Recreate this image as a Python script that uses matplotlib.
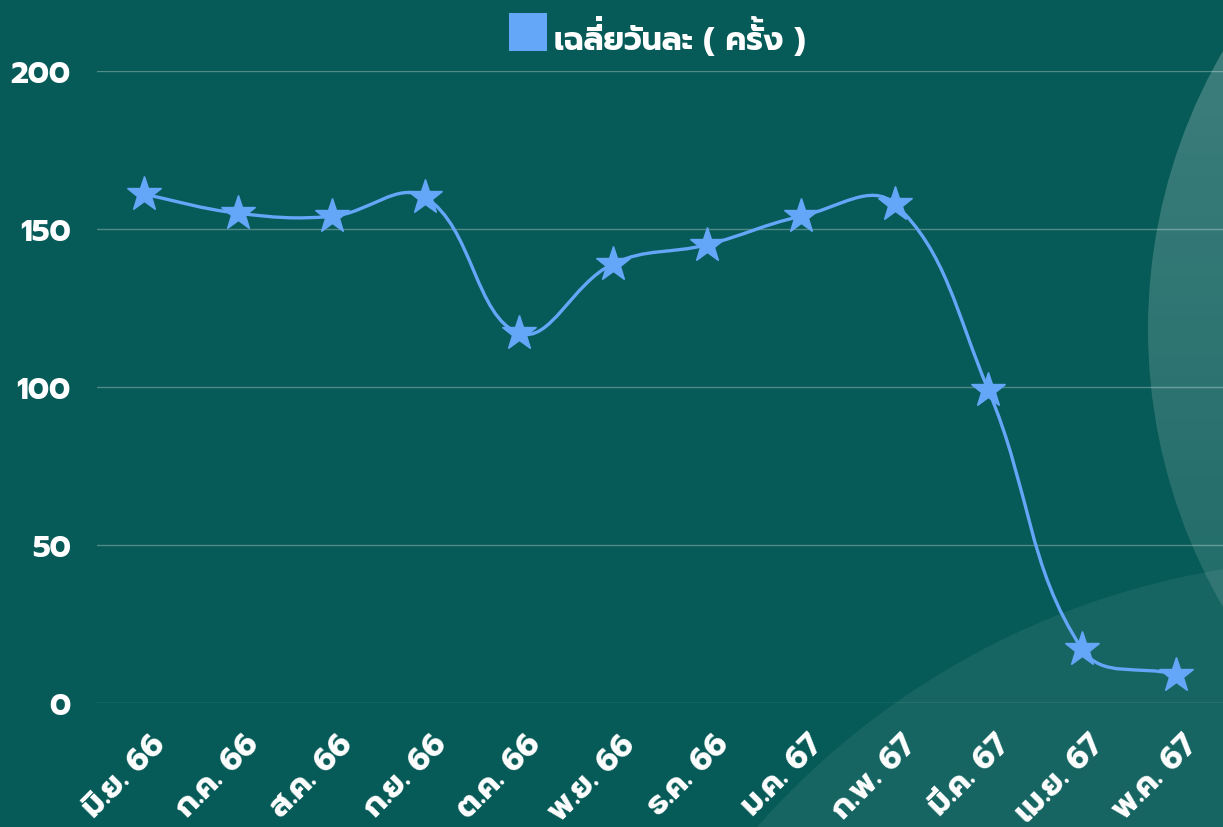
import numpy as np
import matplotlib
matplotlib.use("Agg")
import matplotlib.pyplot as plt
from matplotlib.path import Path
from matplotlib.patches import PathPatch, Circle, Rectangle
from matplotlib.transforms import Affine2D
from matplotlib.textpath import TextToPath
from matplotlib.font_manager import FontProperties

months = ["มิ.ย. 66", "ก.ค. 66", "ส.ค. 66", "ก.ย. 66", "ต.ค. 66", "พ.ย. 66",
          "ธ.ค. 66", "ม.ค. 67", "ก.พ. 67", "มี.ค. 67", "เม.ย. 67", "พ.ค. 67"]
daily_avg = [161, 155, 154, 160, 117, 139, 145, 154, 158, 99, 17, 9]
series_name = "เฉลี่ยวันละ ( ครั้ง )"

bg = "#065a57"
line_color = "#64a6f8"
fams = ["Prompt", "DejaVu Sans"]
plt.rcParams["font.family"] = fams

W, H = 1223, 828


def spline_path(xs, ys, tension=0.4):
    # chart.js style bezier, worked out in pixel space
    n = len(xs)
    pts = np.column_stack([xs, ys])
    ctrl = []
    for i in range(n):
        p0 = pts[max(i - 1, 0)]
        p1 = pts[i]
        p2 = pts[min(i + 1, n - 1)]
        d01 = np.hypot(*(p1 - p0))
        d12 = np.hypot(*(p2 - p1))
        tot = d01 + d12
        s01 = d01 / tot if tot else 0
        s12 = d12 / tot if tot else 0
        ctrl.append((p1 - tension * s01 * (p2 - p0), p1 + tension * s12 * (p2 - p0)))
    verts = [pts[0]]
    codes = [Path.MOVETO]
    for i in range(1, n):
        verts += [ctrl[i - 1][1], ctrl[i][0], pts[i]]
        codes += [Path.CURVE4] * 3
    return Path(np.array(verts), codes)


fig = plt.figure(figsize=(W / 100, H / 100), dpi=100, facecolor=bg)

# background decoration, pixel coords (y up)
deco = fig.add_axes([0, 0, 1, 1], zorder=0)
deco.axis("off")
deco.add_patch(Circle((1350, H - 1350), 790, color="white", alpha=0.07, lw=0))
ring = Circle((1701, H - 330), 553, facecolor="none", lw=0)
deco.add_patch(ring)
grad = np.ones((256, 2, 4))
grad[:, :, 3] = np.linspace(0.07, 0.23, 256)[:, None]
img = deco.imshow(grad, extent=(1100, W, H, 0), origin="upper", aspect="auto", zorder=1)
img.set_clip_path(ring)
deco.set_xlim(0, W)
deco.set_ylim(0, H)

ax = fig.add_axes([97 / W, 124 / H, 1 - 97 / W, 632 / H], zorder=1)
ax.patch.set_alpha(0)
x = np.arange(len(months))
ax.set_xlim(-0.5, len(months) - 0.5)
ax.set_ylim(0, 200)

fig.canvas.draw()
disp = ax.transData.transform(np.column_stack([x, daily_avg]))
path = ax.transData.inverted().transform_path(spline_path(disp[:, 0], disp[:, 1]))
ax.add_patch(PathPatch(path, facecolor="none", edgecolor=line_color, lw=2.4, zorder=3))
ax.plot(x, daily_avg, ls="none", marker="*", ms=26, color=line_color, zorder=4)

ax.set_yticks([0, 50, 100, 150, 200])
ax.grid(axis="y", color="white", alpha=0.3, lw=1)
ax.set_axisbelow(True)
for s in ax.spines.values():
    s.set_visible(False)
ax.tick_params(axis="y", length=0, pad=19, labelsize=22, labelcolor="white")
ax.tick_params(axis="x", length=0, pad=26, labelsize=23, labelcolor="white")
ax.set_xticks(x)
ax.set_xticklabels(months, rotation=45, ha="right", va="center", rotation_mode="anchor")
shift = Affine2D().translate(17, 0)
for lbl in ax.get_xticklabels():
    lbl.set_transform(lbl.get_transform() + shift)
for lbl in ax.get_yticklabels() + ax.get_xticklabels():
    lbl.set_fontweight("bold")

# legend: square + label. matplotlib does no thai mark stacking, so a tone
# mark sitting on an upper vowel gets hidden; draw its outline again, lifted
UPPER = "\u0e31\u0e34\u0e35\u0e36\u0e37\u0e47"
TONES = "\u0e48\u0e49\u0e4a\u0e4b\u0e4c"
t2p = TextToPath()
font = t2p._get_font(FontProperties(family=fams, weight="bold"))
font.set_size(t2p.FONT_SCALE, t2p.DPI)
glyphs, gmap, _ = t2p.get_glyphs_with_font(font, series_name)
outlines = []
for gid, gx, gy, sc in glyphs:
    v, c = gmap[gid]
    v = np.asarray(v, float).reshape(-1, 2) * sc + [gx, gy]
    outlines.append((v, np.asarray(c)))


def box(v, c):
    # closepoly vertices are dummies at the origin, leave them out
    v = v[c != Path.CLOSEPOLY] if len(c) == len(v) else v
    return (v[:, 0].min(), v[:, 0].max(), v[:, 1].min(), v[:, 1].max()) if len(v) else None


boxes = [box(v, c) for v, c in outlines]
ink_l = min(b[0] for b in boxes if b)
ink_r = max(b[1] for b in boxes if b)
size = 250 * 72 / (ink_r - ink_l)
k = size / 72
x0 = 555 - ink_l * k
base = H - 50
deco.add_patch(Rectangle((509, H - 52), 38, 38, color=line_color, lw=0, zorder=2))
deco.text(x0, base, series_name, fontsize=size, fontweight="bold", color="white",
          ha="left", va="baseline", zorder=3)
place = Affine2D().scale(k).translate(x0, base) + deco.transData
for i, ch in enumerate(series_name):
    if ch in TONES and i > 0 and series_name[i - 1] in UPPER and boxes[i] and boxes[i - 1]:
        dy = boxes[i - 1][3] - boxes[i][2] + 6
        v, c = outlines[i]
        deco.add_patch(PathPatch(Path(v + [0, dy], c), facecolor="white", lw=0,
                                 transform=place, zorder=3))

fig.savefig("out.png", dpi=100, facecolor=bg)
